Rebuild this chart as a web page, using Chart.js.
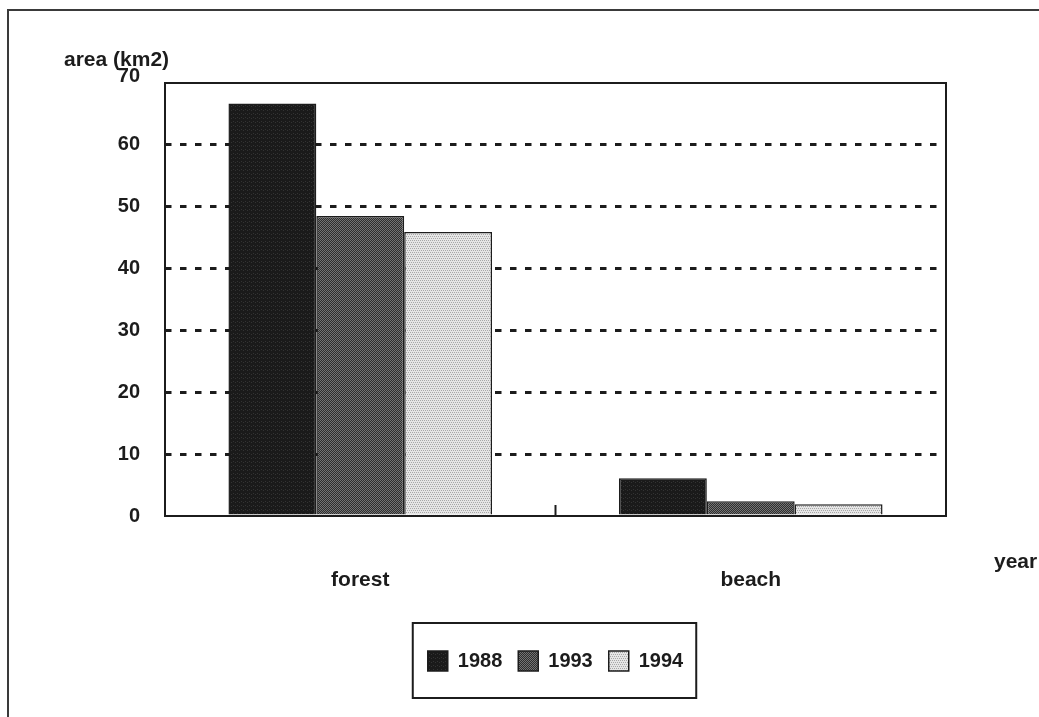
<!DOCTYPE html>
<html>
<head>
<meta charset="utf-8">
<script src="https://cdn.jsdelivr.net/npm/chart.js@4.4.1/dist/chart.umd.min.js"></script>
<style>
  html, body { margin: 0; padding: 0; background: #ffffff; }
  #wrap { position: relative; width: 1039px; height: 717px; }
  canvas { display: block; }
</style>
</head>
<body>
<div id="wrap"><canvas id="c" width="1039" height="717"></canvas></div>
<script>
// Land area by type (km2)
const categories = ['forest', 'beach'];
const seriesLabels = ['1988', '1993', '1994'];
const area1988 = [66.7, 6.1];
const area1993 = [48.5, 2.4];
const area1994 = [45.9, 1.9];
const yTicks = [0, 10, 20, 30, 40, 50, 60, 70];

const FONT = '"Liberation Sans", Arial, sans-serif';
const INK = '#1c1c1c';

// Small stipple fills for the bars
function stipple(base, dot, cells) {
  const c = document.createElement('canvas');
  c.width = 4; c.height = 4;
  const g = c.getContext('2d');
  g.fillStyle = base;
  g.fillRect(0, 0, 4, 4);
  g.fillStyle = dot;
  cells.forEach(([x, y]) => g.fillRect(x, y, 1, 1));
  return g.createPattern(c, 'repeat');
}
const fill1988 = stipple('#1a1a1a', '#333333', [[1, 1], [3, 2]]);
const fill1993 = stipple('#2e2e2e', '#747474', [[0, 0], [2, 0], [1, 1], [3, 1], [0, 2], [2, 2], [1, 3], [3, 3]]);
const fill1994 = stipple('#e6e6e6', '#a8a8a8', [[0, 0], [2, 0], [1, 2], [3, 2]]);

const fills = [fill1988, fill1993, fill1994];
const values = [area1988, area1993, area1994];
const topTick = yTicks[yTicks.length - 1];

const decor = {
  id: 'decor',
  afterLayout(chart) {
    // centre the legend under the plot area
    const lg = chart.legend;
    const a = chart.chartArea;
    lg.left = a.left;
    lg.right = a.right;
    lg.width = a.right - a.left;
  },
  beforeDraw(chart) {
    const ctx = chart.ctx;
    ctx.save();
    ctx.fillStyle = '#ffffff';
    ctx.fillRect(0, 0, chart.width, chart.height);
    // outer frame (left and top edges)
    ctx.strokeStyle = '#3a3a3a';
    ctx.lineWidth = 2;
    ctx.beginPath();
    ctx.moveTo(8, chart.height);
    ctx.lineTo(8, 10);
    ctx.lineTo(chart.width, 10);
    ctx.stroke();
    ctx.restore();
  },
  afterDatasetsDraw(chart) {
    const ctx = chart.ctx;
    const a = chart.chartArea;
    const x = chart.scales.x;
    ctx.save();
    // plot frame
    ctx.strokeStyle = INK;
    ctx.lineWidth = 2;
    ctx.strokeRect(a.left, a.top, a.right - a.left, a.bottom - a.top);
    // inner tick between the two categories
    const mid = (x.getPixelForValue(0) + x.getPixelForValue(1)) / 2;
    ctx.beginPath();
    ctx.moveTo(mid, a.bottom);
    ctx.lineTo(mid, a.bottom - 11);
    ctx.stroke();
    ctx.restore();
  },
  afterDraw(chart) {
    const ctx = chart.ctx;
    const a = chart.chartArea;
    ctx.save();
    // legend frame
    const boxes = chart.legend.legendHitBoxes;
    if (boxes && boxes.length) {
      const l = Math.min(...boxes.map(b => b.left));
      const r = Math.max(...boxes.map(b => b.left + b.width));
      const t = Math.min(...boxes.map(b => b.top));
      const btm = Math.max(...boxes.map(b => b.top + b.height));
      ctx.strokeStyle = INK;
      ctx.lineWidth = 2;
      ctx.strokeRect(l - 15, t - 28, (r - l) + 28, (btm - t) + 55);
    }
    // axis captions
    ctx.fillStyle = INK;
    ctx.font = 'bold 21px ' + FONT;
    ctx.textBaseline = 'alphabetic';
    ctx.textAlign = 'left';
    ctx.fillText('area (km2)', 64, 66);
    ctx.fillText('year', a.right + 48, 568);
    ctx.restore();
  }
};

new Chart(document.getElementById('c'), {
  type: 'bar',
  data: {
    labels: categories,
    datasets: seriesLabels.map((lab, i) => ({
      label: lab,
      data: values[i],
      backgroundColor: fills[i],
      borderColor: INK,
      borderWidth: 1.5,
      categoryPercentage: 0.675,
      barPercentage: 1.0
    }))
  },
  options: {
    responsive: false,
    devicePixelRatio: 1,
    animation: false,
    layout: { padding: { left: 0, right: 93, top: 83, bottom: 36 } },
    plugins: {
      tooltip: { enabled: false },
      legend: {
        position: 'bottom',
        labels: {
          color: INK,
          font: { family: FONT, size: 20, weight: 'bold' },
          boxWidth: 20,
          boxHeight: 20,
          padding: 16
        }
      }
    },
    scales: {
      x: {
        grid: { display: false },
        border: { display: false },
        ticks: {
          color: INK,
          padding: 44,
          font: { family: FONT, size: 21, weight: 'bold' }
        },
        afterFit(scale) { scale.height = 119; }
      },
      y: {
        min: yTicks[0],
        max: topTick,
        afterBuildTicks(scale) { scale.ticks = yTicks.map(v => ({ value: v })); },
        grid: {
          drawTicks: false,
          lineWidth: 3,
          color: c => (c.tick && (c.tick.value === yTicks[0] || c.tick.value === topTick)) ? 'rgba(0,0,0,0)' : INK
        },
        border: { display: false, dash: [6.5, 8.5] },
        ticks: {
          color: INK,
          padding: 25,
          font: c => ({
            family: FONT, size: 20, weight: 'bold',
            lineHeight: (c.tick && c.tick.value === topTick) ? 0.7 : 1.2
          }),
          callback: v => (v === topTick ? [String(v), ''] : String(v))
        },
        afterFit(scale) { scale.width = 165; }
      }
    }
  },
  plugins: [decor]
});
</script>
</body>
</html>
